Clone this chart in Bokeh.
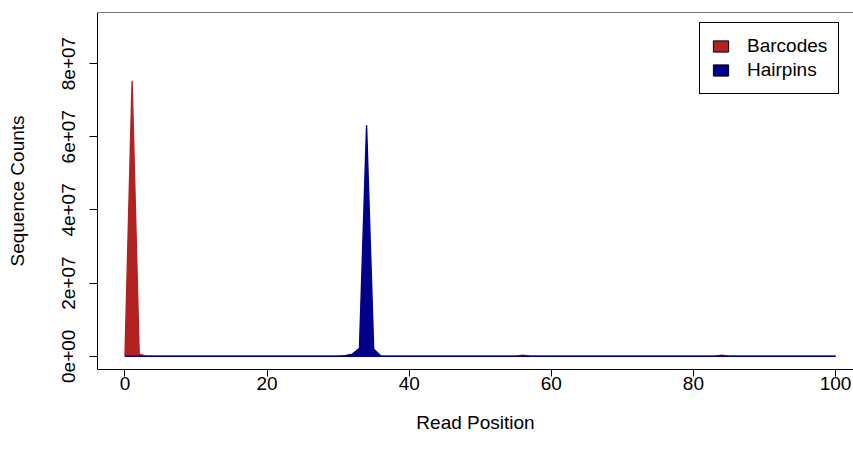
from bokeh.plotting import figure
from bokeh.models import FixedTicker, Span, Legend, LegendItem, Range1d
from bokeh.embed import file_html
from bokeh.resources import INLINE

# ---- data ----
positions = list(range(101))
barcodes = [
    0.3e6, 75.3e6, 0.6e6, 0.05e6, 0, 0, 0, 0, 0, 0,
    0, 0, 0, 0, 0, 0, 0, 0, 0, 0,
    0, 0, 0, 0, 0, 0, 0, 0, 0, 0,
    0, 0, 0, 0, 0, 0, 0, 0, 0, 0,
    0, 0, 0, 0, 0, 0, 0, 0, 0, 0,
    0, 0, 0, 0, 0, 0.05e6, 0.3e6, 0.05e6, 0, 0,
    0, 0, 0, 0, 0, 0, 0, 0, 0, 0,
    0, 0, 0, 0, 0, 0, 0, 0, 0, 0,
    0, 0, 0, 0, 0.3e6, 0.05e6, 0, 0, 0, 0,
    0, 0, 0, 0, 0, 0, 0, 0, 0, 0,
    0,
]
hairpins = [
    0, 0, 0, 0, 0, 0, 0, 0, 0, 0,
    0, 0, 0, 0, 0, 0, 0, 0, 0, 0,
    0, 0, 0, 0, 0, 0, 0, 0, 0, 0,
    0.05e6, 0.15e6, 0.6e6, 2.2e6, 63.1e6, 2.0e6, 0.1e6, 0, 0, 0,
    0, 0, 0, 0, 0, 0, 0, 0, 0, 0,
    0, 0, 0, 0, 0, 0, 0.1e6, 0, 0, 0,
    0, 0, 0, 0, 0, 0, 0, 0, 0, 0,
    0, 0, 0, 0, 0, 0, 0, 0, 0, 0,
    0, 0, 0, 0, 0.1e6, 0, 0, 0, 0, 0,
    0, 0, 0, 0, 0, 0, 0, 0, 0, 0,
    0,
]
series_names = ["Barcodes", "Hairpins"]
series_colors = ["#B22222", "#00008B"]
x_ticks = [0, 20, 40, 60, 80, 100]
y_ticks = [0, 2e7, 4e7, 6e7, 8e7]
y_tick_labels = ["0e+00", "2e+07", "4e+07", "6e+07", "8e+07"]
x_title = "Read Position"
y_title = "Sequence Counts"

FONT = "Liberation Sans"
FS = "19px"

p = figure(width=853, height=458, output_backend="svg", toolbar_location=None,
           x_range=Range1d(-3.87, 102.53), y_range=Range1d(-3.61e6, 93.95e6),
           min_border_left=97, min_border_right=0, min_border_top=12,
           min_border_bottom=89)
p.background_fill_color = "white"
p.border_fill_color = "white"
p.outline_line_color = None
p.xgrid.visible = False
p.ygrid.visible = False

# polygons
for counts, color in zip([barcodes, hairpins], series_colors):
    xs = positions + positions[::-1]
    ys = counts + [0] * len(positions)
    p.patch(xs, ys, fill_color=color, line_color=color, line_width=1.4)

# top border of the box
p.add_layout(Span(location=p.y_range.end, dimension="width",
                  line_color="black", line_width=1))

# axes
for ax in (p.xaxis[0], p.yaxis[0]):
    ax.axis_line_color = "black"
    ax.axis_line_width = 1
    ax.major_tick_line_color = "black"
    ax.major_tick_in = 0
    ax.minor_tick_line_color = None
    ax.major_label_text_font = FONT
    ax.major_label_text_font_size = FS
    ax.major_label_text_color = "black"
    ax.axis_label_text_font = FONT
    ax.axis_label_text_font_size = FS
    ax.axis_label_text_font_style = "normal"
    ax.axis_label_text_color = "black"

p.xaxis.ticker = FixedTicker(ticks=x_ticks)
p.xaxis.major_tick_out = 7
p.xaxis.major_label_standoff = 0
p.xaxis.axis_label = x_title
p.xaxis.axis_label_standoff = 19

p.yaxis.ticker = FixedTicker(ticks=y_ticks)
p.yaxis.major_label_overrides = {t: s for t, s in zip(y_ticks, y_tick_labels)}
p.yaxis.major_label_orientation = "vertical"
p.yaxis.major_tick_out = 8
p.yaxis.major_label_standoff = 14
p.yaxis.axis_label = y_title
p.yaxis.axis_label_standoff = 32

# legend (swatches with black border)
items = []
for name, color in zip(series_names, series_colors):
    r = p.rect(x=[float("nan")], y=[float("nan")], width=1, height=1,
               fill_color=color, line_color="black", line_width=1)
    items.append(LegendItem(label=name, renderers=[r]))
legend = Legend(items=items, location=(602, 275), margin=0, padding=11,
                spacing=0, label_height=24, glyph_width=19, glyph_height=14,
                label_standoff=17, label_text_font=FONT, label_text_font_size=FS,
                label_text_color="black",
                border_line_color="black", border_line_alpha=1,
                border_line_width=1, background_fill_color="white",
                background_fill_alpha=1)
p.add_layout(legend)

open("out.html", "w").write(file_html(p, INLINE))
